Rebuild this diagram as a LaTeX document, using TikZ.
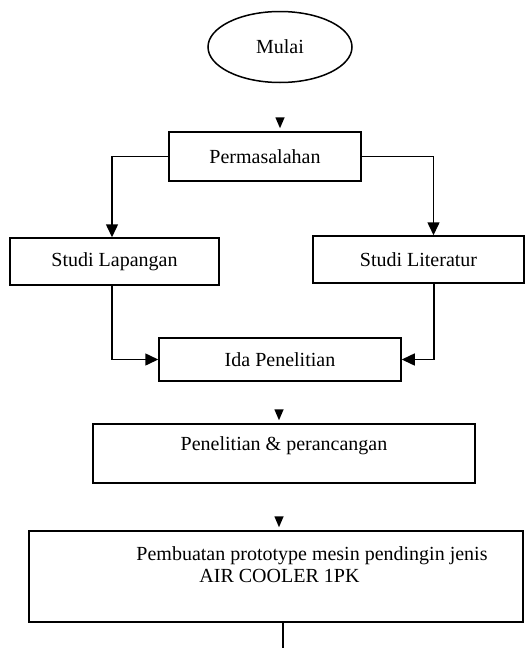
\documentclass[tikz,border=0pt]{standalone}
\usepackage{fontspec}
\setmainfont{Liberation Serif}
\usetikzlibrary{shapes,positioning,arrows.meta}

\begin{document}
\begin{tikzpicture}[x=1pt, y=-1pt, line width=1.5pt,
  font=\fontsize{20}{22}\selectfont,
  kotak/.style={draw, rectangle, inner sep=0pt},
  panah/.style={-{Triangle[length=13pt,width=12pt]}},
  ujung/.style={-{Triangle[length=11pt,width=9pt]}, shorten >=3pt}]
\useasboundingbox (0,0) rectangle (526,648);

\node[draw, ellipse, inner sep=0pt, minimum width=144pt, minimum height=71pt] (mulai) at (280,47) {Mulai};
\node[kotak, minimum width=192pt, minimum height=49pt] (masalah) at (265,156.5) {Permasalahan};
\node[kotak, minimum width=209pt, minimum height=47pt] (lapangan) at (114.5,261.5) {Studi Lapangan};
\node[kotak, minimum width=211pt, minimum height=47pt] (literatur) at (418.5,259.5) {Studi Literatur};
\node[kotak, minimum width=242pt, minimum height=43pt] (ide) at (280,359.5) {Ida Penelitian};
\node[kotak, minimum width=382pt, text height=26pt, text depth=33pt] (teliti) at (284,453.5) {Penelitian \& perancangan};
\node[kotak, minimum width=494pt, align=left, text height=51pt, text depth=40pt] (buat) at (276,576.5)
  {\hspace*{72pt}Pembuatan prototype mesin pendingin jenis\\ \hspace*{135pt}AIR COOLER 1PK};

% ujung panah tanpa garis
\coordinate (t1) at (280,118);
\coordinate (t2) at (279,410);
\coordinate (t3) at (279,517);
\draw[ujung] (t1) -- (t1 |- masalah.north);
\draw[ujung] (t2) -- (t2 |- teliti.north);
\draw[ujung] (t3) -- (t3 |- buat.north);

\draw[panah] (masalah.west) -| ([xshift=-2.5pt]lapangan.north);
\draw[panah] (masalah.east) -| ([xshift=15pt]literatur.north);
\draw[panah] ([xshift=-2.5pt]lapangan.south) |- (ide.west);
\draw[panah] ([xshift=15.5pt]literatur.south) |- (ide.east);

\coordinate (akhir) at (283,648);
\draw (buat.south -| akhir) -- (akhir);
\end{tikzpicture}
\end{document}
